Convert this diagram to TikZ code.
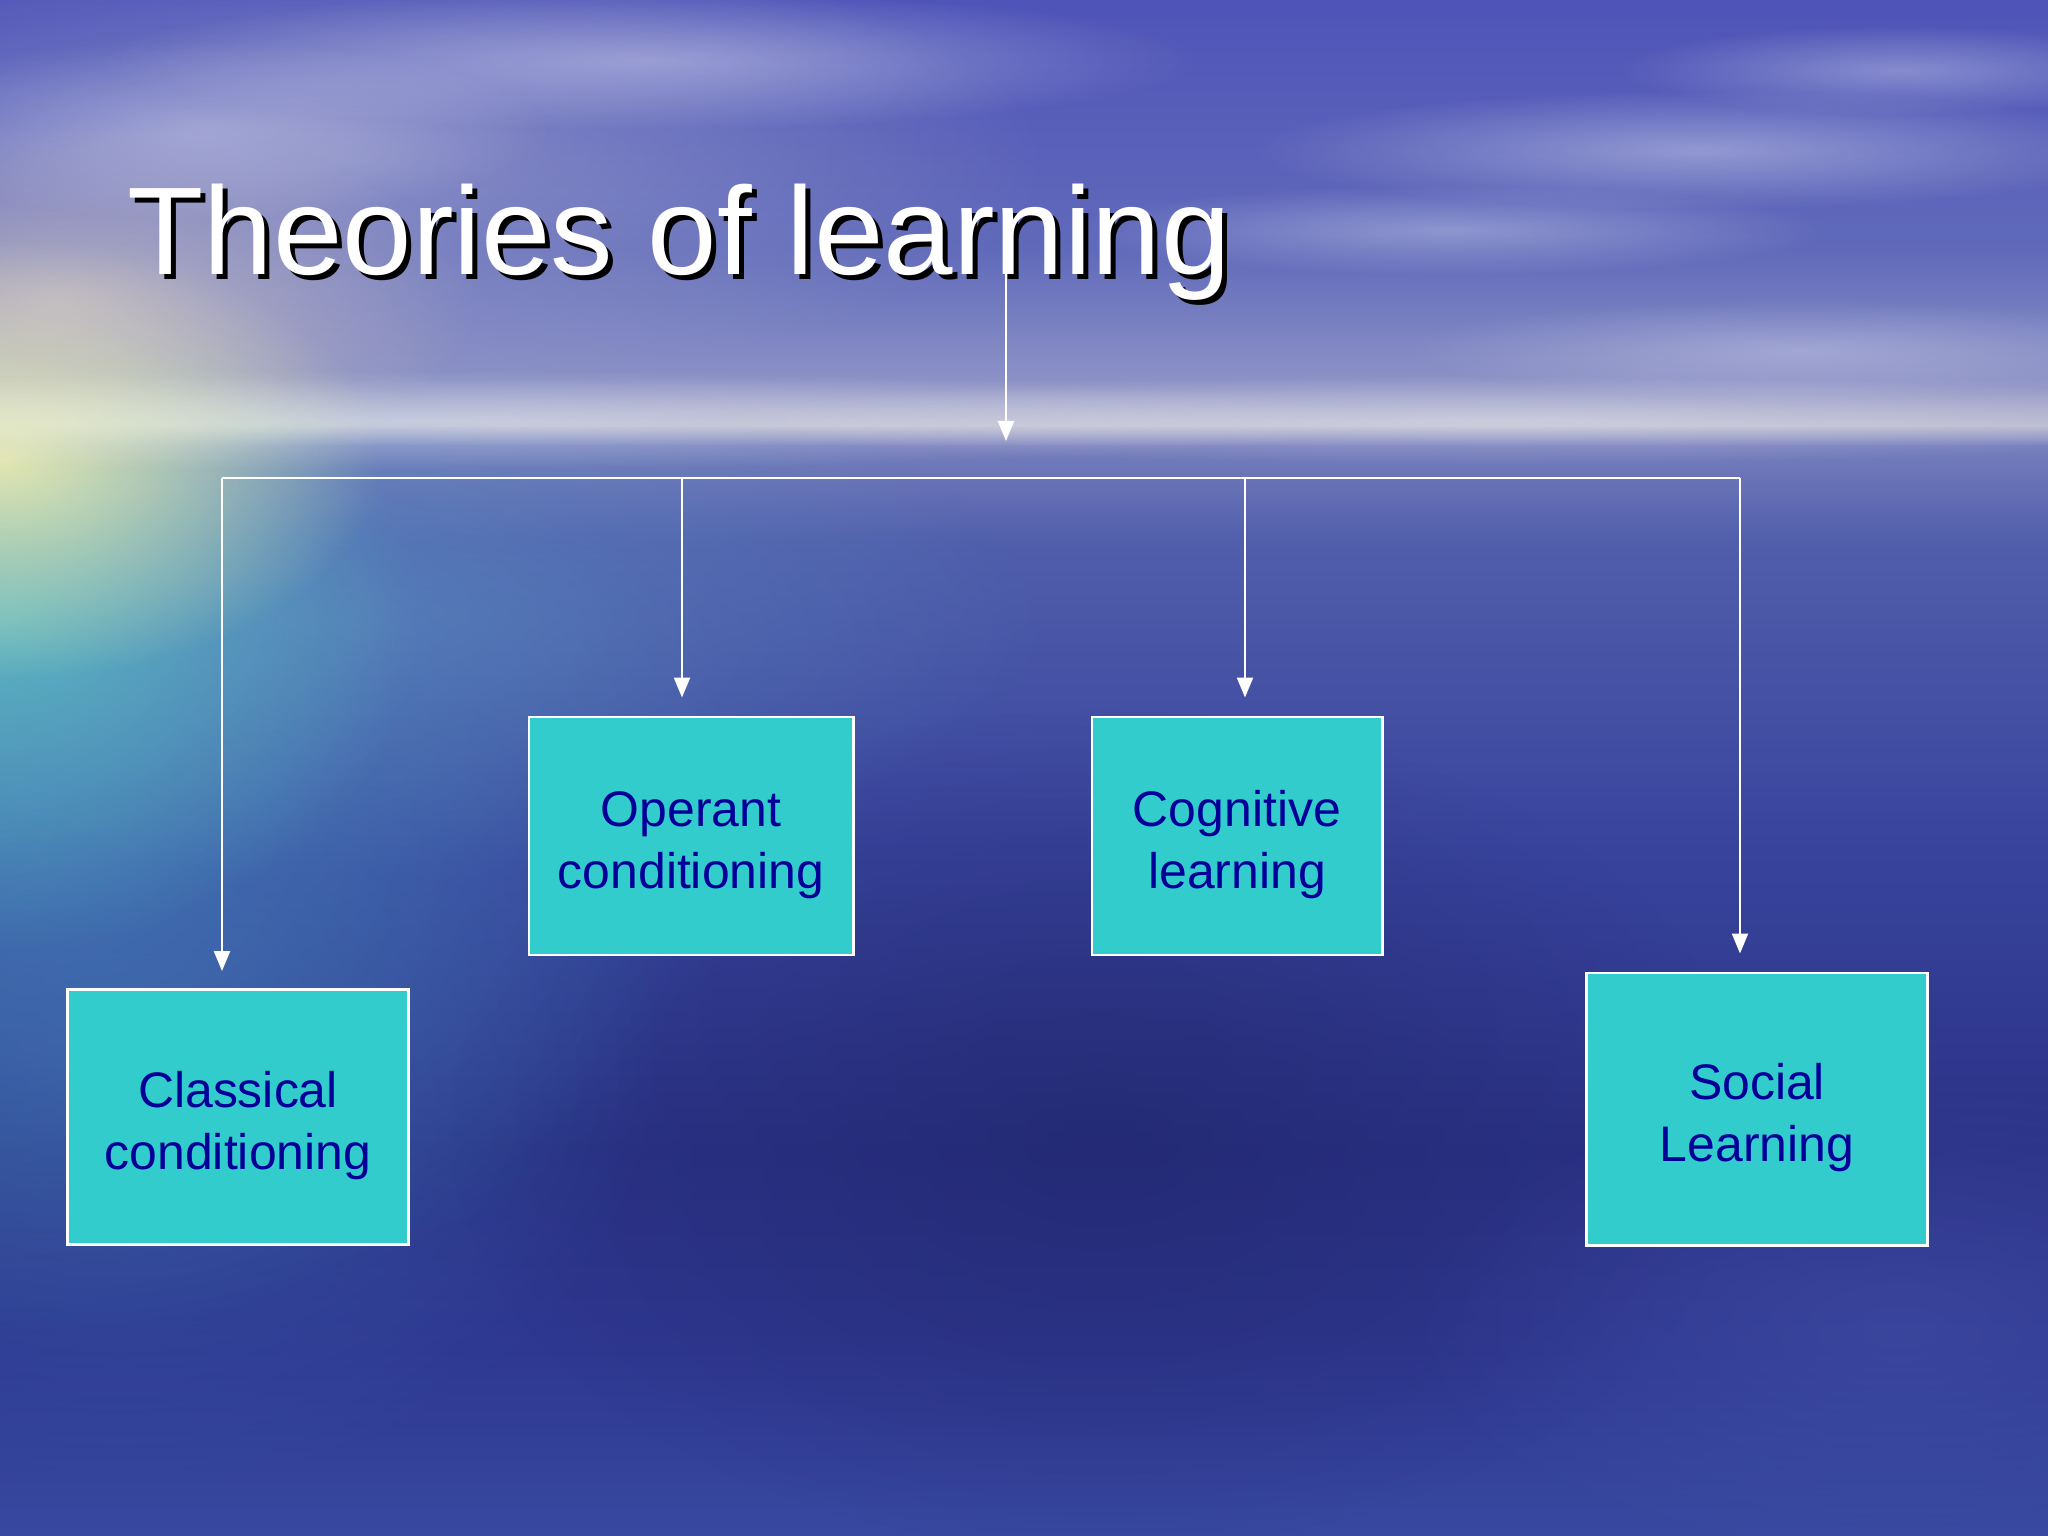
\documentclass[tikz,border=0pt]{standalone}
\usepackage{fontspec}
\setmainfont{Liberation Sans}
\usetikzlibrary{arrows.meta,fadings}
\definecolor{boxfill}{HTML}{33CCCC}
\definecolor{boxtext}{HTML}{000099}
\tikzfading[name=blob, inner color=transparent!0, outer color=transparent!100]
\newcommand{\toplift}{\rule{0pt}{15pt}}
\begin{document}
\begin{tikzpicture}[x=0.01cm, y=-0.01cm,
  stagebox/.style={draw=white, line width=0.8pt, fill=boxfill, text=boxtext,
    font=\fontsize{14.2}{17.6}\selectfont, align=center, inner sep=0pt},
  link/.style={draw=white, line width=0.7pt},
  arrowlink/.style={link, -{Triangle[length=0.2cm, width=0.16cm]}},
  glow/.style={path fading=blob}
]
\useasboundingbox (0,0) rectangle (2048,1536);
% background sky and sea
\shade[top color={rgb,255:red,78;green,84;blue,184}, bottom color={rgb,255:red,96;green,106;blue,186}] (0,0) rectangle (2048,251);
\shade[top color={rgb,255:red,96;green,106;blue,186}, bottom color={rgb,255:red,140;green,146;blue,198}] (0,250) rectangle (2048,381);
\shade[top color={rgb,255:red,140;green,146;blue,198}, bottom color={rgb,255:red,186;green,186;blue,206}] (0,380) rectangle (2048,426);
\shade[top color={rgb,255:red,186;green,186;blue,206}, bottom color={rgb,255:red,118;green,126;blue,188}] (0,425) rectangle (2048,446);
\shade[top color={rgb,255:red,118;green,126;blue,188}, bottom color={rgb,255:red,80;green,94;blue,172}] (0,445) rectangle (2048,541);
\shade[top color={rgb,255:red,80;green,94;blue,172}, bottom color={rgb,255:red,56;green,68;blue,156}] (0,540) rectangle (2048,851);
\shade[top color={rgb,255:red,56;green,68;blue,156}, bottom color={rgb,255:red,42;green,50;blue,134}] (0,850) rectangle (2048,1151);
\shade[top color={rgb,255:red,42;green,50;blue,134}, bottom color={rgb,255:red,46;green,56;blue,144}] (0,1150) rectangle (2048,1351);
\shade[top color={rgb,255:red,46;green,56;blue,144}, bottom color={rgb,255:red,56;green,72;blue,160}] (0,1350) rectangle (2048,1536);
% glows and clouds
\fill[glow, color={rgb,255:red,30;green,34;blue,100}, opacity=0.5] (1100,1130) ellipse (650 and 420);
\fill[glow, color={rgb,255:red,64;green,110;blue,180}, opacity=0.5] (120,1050) ellipse (550 and 450);
\fill[glow, color={rgb,255:red,80;green,96;blue,180}, opacity=0.35] (1900,1330) ellipse (500 and 250);
\fill[glow, color={rgb,255:red,74;green,144;blue,192}, opacity=0.55] (0,820) ellipse (750 and 520);
\fill[glow, color={rgb,255:red,96;green,150;blue,196}, opacity=0.5] (350,620) ellipse (700 and 260);
\fill[glow, color={rgb,255:red,96;green,208;blue,200}, opacity=0.7] (0,620) ellipse (420 and 330);
\fill[glow, color={rgb,255:red,240;green,240;blue,176}, opacity=0.9] (0,460) ellipse (380 and 220);
\fill[glow, color={rgb,255:red,232;green,216;blue,192}, opacity=0.6] (60,300) ellipse (420 and 180);
\fill[glow, color={rgb,255:red,200;green,200;blue,216}, opacity=0.4] (350,160) ellipse (700 and 230);
\fill[glow, white, opacity=0.35] (400,420) ellipse (1000 and 50);
\fill[glow, white, opacity=0.3] (1500,420) ellipse (800 and 45);
\fill[glow, white, opacity=0.35] (650,60) ellipse (550 and 70);
\fill[glow, white, opacity=0.3] (200,130) ellipse (350 and 90);
\fill[glow, white, opacity=0.35] (1700,150) ellipse (450 and 60);
\fill[glow, white, opacity=0.3] (1450,230) ellipse (380 and 45);
\fill[glow, white, opacity=0.3] (1900,70) ellipse (280 and 45);
\fill[glow, white, opacity=0.25] (1800,350) ellipse (400 and 50);
% title
\node[anchor=base west, text=black, font=\fontsize{35.5}{40}\selectfont, inner sep=0pt] (titleshadow) at (132,279) {Theories of learning};
\node[anchor=base west, text=white, font=\fontsize{35.5}{40}\selectfont, inner sep=0pt] (title) at (127,274) {Theories of learning};
% boxes
\node[stagebox, minimum width=3.41cm, minimum height=2.55cm] (classical) at (238,1117) {\toplift Classical\\conditioning};
\node[stagebox, minimum width=3.24cm, minimum height=2.38cm] (operant) at (691,836) {\toplift Operant\\conditioning};
\node[stagebox, minimum width=2.90cm, minimum height=2.38cm] (cognitive) at (1237,836) {\toplift Cognitive\\learning};
\node[stagebox, minimum width=3.41cm, minimum height=2.72cm] (social) at (1757,1109) {\toplift Social\\Learning};
% connectors
\coordinate (tstart) at (1006,268);
\coordinate (tend) at (1006,441);
\coordinate (barL) at (222,478);
\coordinate (barR) at (1740,478);
\coordinate (b2) at (682,478);
\coordinate (b3) at (1245,478);
\draw[arrowlink] (tstart) -- (tend);
\draw[link] (barL) -- (barR);
\draw[arrowlink, shorten >=0.17cm] (barL) -- (barL |- classical.north);
\draw[arrowlink, shorten >=0.18cm] (b2) -- (b2 |- operant.north);
\draw[arrowlink, shorten >=0.18cm] (b3) -- (b3 |- cognitive.north);
\draw[arrowlink, shorten >=0.18cm] (barR) -- (barR |- social.north);
\end{tikzpicture}
\end{document}
